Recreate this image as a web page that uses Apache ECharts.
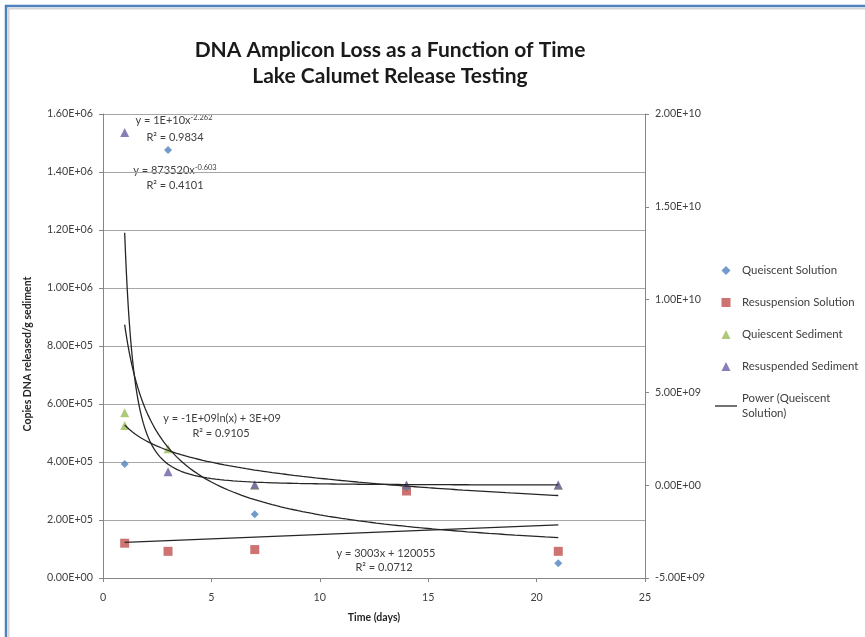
<!DOCTYPE html>
<html>
<head>
<meta charset="utf-8">
<script src="https://cdn.jsdelivr.net/npm/echarts@6/dist/echarts.min.js"></script>
<style>
  html, body { margin: 0; padding: 0; background: #ffffff; }
  #chart { width: 865px; height: 637px; }
</style>
</head>
<body>
<div id="chart"></div>
<script>
// Sampling days
const days = [1, 3, 7, 14, 21];

// Copies DNA released per g sediment (left axis)
const queiscentSolution = [3.93e5, 1.476e6, 2.2e5, 3.1e5, 5.07e4];
const resuspensionSolution = [1.2e5, 9.2e4, 9.8e4, 3.0e5, 9.2e4];

// Sediment series (right axis)
const quiescentSedimentDays = [1, 1, 3, 7, 14, 21];
const quiescentSediment = [3.91e9, 3.21e9, 1.97e9, 0, 0, 0];
const resuspendedSediment = [1.9e10, 7.3e8, 2e7, 1.5e7, 1e7];

// Trendline coefficients
const powerSolutionFit = [873520, -0.603];      // y = a·x^b (left axis)
const powerSedimentFit = [1.36e10, -2.262];     // y = a·x^b (right axis)
const logSedimentFit = [-1.25e9, 3.25e9];       // y = a·ln(x) + b (right axis)
const linearSolutionFit = [3003, 120055];       // y = a·x + b (left axis)

// Axis ticks
const xTicks = [0, 5, 10, 15, 20, 25];
const leftTicks = [0, 2e5, 4e5, 6e5, 8e5, 1e6, 1.2e6, 1.4e6, 1.6e6];
const rightTicks = [-5e9, 0, 5e9, 1e10, 1.5e10, 2e10];

function sci(v) {
  const s = Math.abs(v).toExponential(2).split('e');
  const sign = s[1][0];
  const exp = s[1].slice(1).padStart(2, '0');
  return (v < 0 ? '-' : '') + s[0] + 'E' + sign + exp;
}

function pairs(xs, ys) { return xs.map((x, i) => [x, ys[i]]); }

// Trendline abscissas across the sampled range, finer where curves are steep
const fitX = [];
for (let x = 1; x < 3; x += 0.02) fitX.push(+x.toFixed(2));
for (let x = 3; x <= 21.0001; x += 0.2) fitX.push(+x.toFixed(2));

const powerCurve = (c) => fitX.map(x => [x, c[0] * Math.pow(x, c[1])]);
const logCurve = (c) => fitX.map(x => [x, c[0] * Math.log(x) + c[1]]);
const linCurve = (c) => [1, 21].map(x => [x, c[0] * x + c[1]]);

const txt = '#404040';
const font = 'Lato, "Liberation Sans", sans-serif';

// Legend glyphs (kept square inside the legend item box)
const ICON_DIAMOND = 'path://M5,0L10,5L5,10L0,5Z';
const ICON_SQUARE = 'path://M0,0H10V10H0Z';
const ICON_TRIANGLE = 'path://M5,0L10,10L0,10Z';
const ICON_LINE = 'path://M0,0H22V1.3H0Z';

const chart = echarts.init(document.getElementById('chart'), null, { renderer: 'canvas' });

const trendStyle = { color: '#262626', width: 1.3 };

function eqText(x, y, parts) {
  return {
    type: 'text', x: x, y: y, silent: true,
    style: {
      text: parts, fill: txt, font: '11px ' + font,
      textAlign: 'center', textVerticalAlign: 'middle',
      rich: { s: { fontSize: 7.5, fill: txt, fontFamily: font, verticalAlign: 'top', lineHeight: 13 },
              n: { fontSize: 11, fill: txt, fontFamily: font, lineHeight: 13 } }
    }
  };
}

const option = {
  animation: false,
  backgroundColor: '#ffffff',
  title: {
    text: 'DNA Amplicon Loss as a Function of Time\nLake Calumet Release Testing',
    left: 390, top: 37, textAlign: 'center', padding: 0,
    textStyle: { fontFamily: font, fontWeight: 'bold', fontSize: 21, color: '#1a1a1a', lineHeight: 26 }
  },
  grid: { left: 103, right: 220, top: 114, bottom: 59, containLabel: false },
  legend: {
    orient: 'vertical', left: 710, top: 258,
    itemWidth: 22, itemHeight: 9, itemGap: 17, symbolKeepAspect: true,
    textStyle: { fontFamily: font, fontSize: 11.4, color: txt, lineHeight: 15 },
    formatter: (name) => name === 'Power (Queiscent Solution)' ? 'Power (Queiscent\nSolution)' : name,
    data: [
      { name: 'Queiscent Solution', icon: ICON_DIAMOND },
      { name: 'Resuspension Solution', icon: ICON_SQUARE },
      { name: 'Quiescent Sediment', icon: ICON_TRIANGLE },
      { name: 'Resuspended Sediment', icon: ICON_TRIANGLE },
      { name: 'Power (Queiscent Solution)', icon: ICON_LINE }
    ]
  },
  xAxis: {
    type: 'value', min: xTicks[0], max: xTicks[xTicks.length - 1], interval: 5,
    name: 'Time (days)', nameLocation: 'middle', nameGap: 34,
    nameTextStyle: { fontFamily: font, fontWeight: 'bold', fontSize: 10.5, color: '#262626' },
    axisLine: { lineStyle: { color: '#868686', width: 1 } },
    axisTick: { show: true, length: 4, lineStyle: { color: '#868686' } },
    axisLabel: { margin: 14, fontFamily: font, fontSize: 10.7, color: txt },
    splitLine: { show: false }
  },
  yAxis: [
    {
      type: 'value', min: leftTicks[0], max: leftTicks[leftTicks.length - 1], interval: 2e5,
      name: 'Copies DNA released/g sediment', nameLocation: 'middle', nameGap: 70,
      nameTextStyle: { fontFamily: font, fontWeight: 'bold', fontSize: 10.5, color: '#262626', padding: [0, 16, 0, 0] },
      axisLine: { show: true, lineStyle: { color: '#868686', width: 1 } },
      axisTick: { show: true, length: 4, lineStyle: { color: '#868686' } },
      axisLabel: { margin: 10, fontFamily: font, fontSize: 10.7, color: txt, formatter: sci },
      splitLine: { show: true, lineStyle: { color: '#a6a6a6', width: 1 } }
    },
    {
      type: 'value', position: 'right', min: rightTicks[0], max: rightTicks[rightTicks.length - 1], interval: 5e9,
      axisLine: { show: true, lineStyle: { color: '#868686', width: 1 } },
      axisTick: { show: true, length: 4, lineStyle: { color: '#868686' } },
      axisLabel: { margin: 10, fontFamily: font, fontSize: 10.7, color: txt, formatter: sci },
      splitLine: { show: false }
    }
  ],
  series: [
    { name: 'Queiscent Solution', type: 'scatter', yAxisIndex: 0, symbol: 'diamond', symbolSize: 8,
      itemStyle: { color: '#4F81BD' }, data: pairs(days, queiscentSolution) },
    { name: 'Resuspension Solution', type: 'scatter', yAxisIndex: 0, symbol: 'rect', symbolSize: 9,
      itemStyle: { color: '#C0504D' }, data: pairs(days, resuspensionSolution) },
    { name: 'Quiescent Sediment', type: 'scatter', yAxisIndex: 1, symbol: 'triangle', symbolSize: 9,
      itemStyle: { color: '#9BBB59' }, data: pairs(quiescentSedimentDays, quiescentSediment) },
    { name: 'Resuspended Sediment', type: 'scatter', yAxisIndex: 1, symbol: 'triangle', symbolSize: 9,
      itemStyle: { color: '#6A5FA8' }, data: pairs(days, resuspendedSediment) },
    { name: 'Power (Queiscent Solution)', type: 'line', yAxisIndex: 0, symbol: 'none', silent: true,
      lineStyle: trendStyle, itemStyle: { color: '#262626' }, data: powerCurve(powerSolutionFit) },
    { name: 'Power (Resuspended Sediment)', type: 'line', yAxisIndex: 1, symbol: 'none', silent: true,
      lineStyle: trendStyle, data: powerCurve(powerSedimentFit) },
    { name: 'Log. (Quiescent Sediment)', type: 'line', yAxisIndex: 1, symbol: 'none', silent: true,
      lineStyle: trendStyle, data: logCurve(logSedimentFit) },
    { name: 'Linear (Resuspension Solution)', type: 'line', yAxisIndex: 0, symbol: 'none', silent: true,
      lineStyle: trendStyle, data: linCurve(linearSolutionFit) }
  ],
  graphic: [
    { type: 'rect', silent: true, shape: { x: 6, y: 6, width: 1000, height: 1000 },
      style: { fill: 'none', stroke: '#4F81BD', lineWidth: 2.5 } },
    { type: 'rect', silent: true, shape: { x: 8.8, y: 8.8, width: 1000, height: 1000 },
      style: { fill: 'none', stroke: '#d6d6d6', lineWidth: 1.5 } },
    eqText(174, 120, '{n|y = 1E+10x}{s|-2.262}'),
    eqText(175, 137, 'R² = 0.9834'),
    eqText(175, 170, '{n|y = 873520x}{s|-0.603}'),
    eqText(175, 185, 'R² = 0.4101'),
    eqText(222, 418, 'y = -1E+09ln(x) + 3E+09'),
    eqText(221, 433, 'R² = 0.9105'),
    eqText(386, 553, 'y = 3003x + 120055'),
    eqText(384, 567, 'R² = 0.0712')
  ]
};

chart.setOption(option);
</script>
</body>
</html>
